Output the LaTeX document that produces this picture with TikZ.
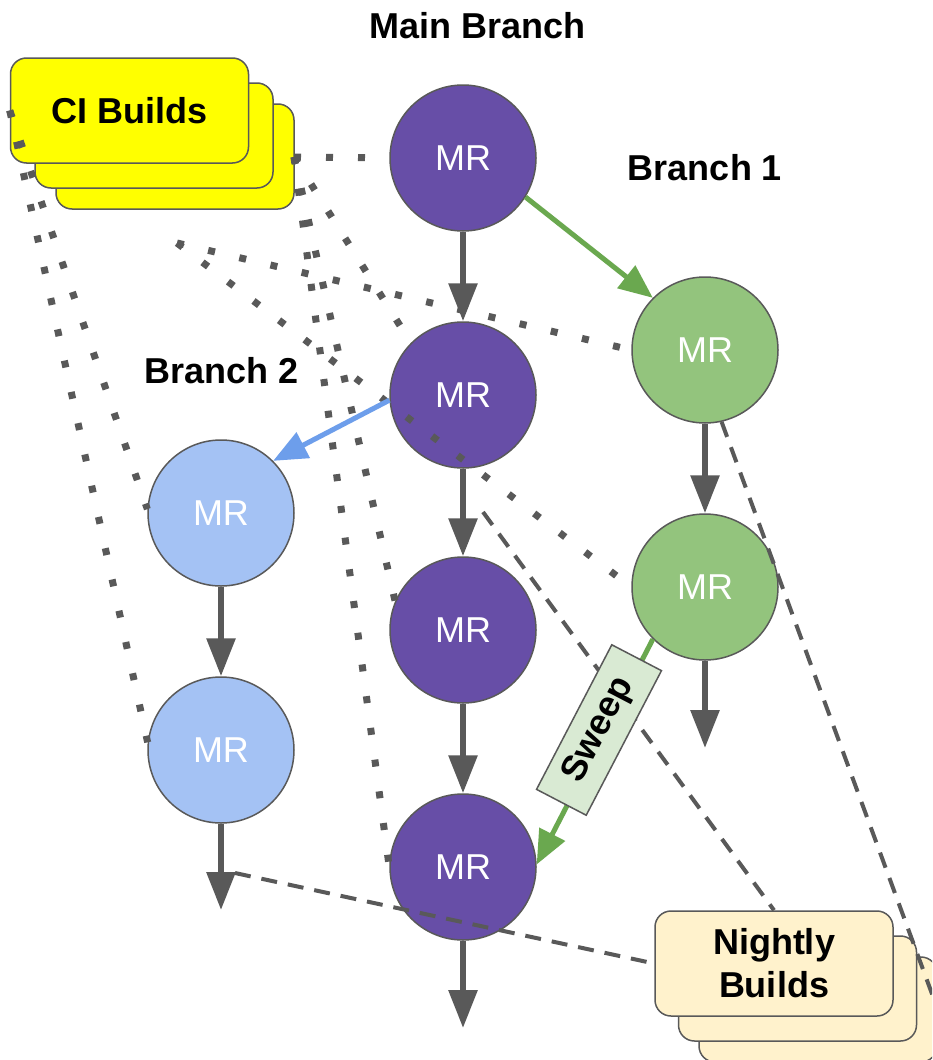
\documentclass[tikz,border=0pt]{standalone}
\usepackage{fontspec}
\setmainfont{Liberation Sans}
\usetikzlibrary{arrows.meta}
\definecolor{dgray}{HTML}{595959}
\definecolor{mpurple}{HTML}{674EA7}
\definecolor{mgreen}{HTML}{93C47D}
\definecolor{mblue}{HTML}{A4C2F4}
\definecolor{agreen}{HTML}{6AA84F}
\definecolor{ablue}{HTML}{6D9EEB}
\definecolor{sweepfill}{HTML}{D9EAD3}
\definecolor{ciyellow}{HTML}{FFFF00}
\definecolor{nightfill}{HTML}{FFF2CC}
\begin{document}
\begin{tikzpicture}[x=1pt,y=-1pt,
  mr/.style={circle, draw=dgray, line width=1.5pt, minimum size=146pt, inner sep=0pt, text=white, font=\fontsize{36pt}{43pt}\selectfont},
  pnode/.style={mr, fill=mpurple},
  gnode/.style={mr, fill=mgreen},
  bnode/.style={mr, fill=mblue},
  lbl/.style={font=\bfseries\fontsize{36pt}{43pt}\selectfont},
  stackbox/.style={draw=dgray, line width=1.5pt, rounded corners=16pt, minimum width=238pt, minimum height=105pt, inner sep=0pt, align=center, font=\bfseries\fontsize{36pt}{43pt}\selectfont},
  cibox/.style={stackbox, fill=ciyellow},
  nbox/.style={stackbox, fill=nightfill},
  flow/.style={draw=dgray, line width=6pt, -{Triangle[length=38pt,width=28pt]}},
  gflow/.style={draw=agreen, line width=5pt, -{Triangle[length=34pt,width=28pt]}},
  bflow/.style={draw=ablue, line width=5pt, -{Triangle[length=34pt,width=28pt]}},
  dots/.style={draw=dgray, line width=7pt, dash pattern=on 7pt off 25pt},
  dashline/.style={draw=dgray, line width=4pt, dash pattern=on 16pt off 11pt},
  sweepbox/.style={draw=dgray, line width=1.5pt, fill=sweepfill, minimum width=163pt, minimum height=56pt, inner sep=0pt, font=\bfseries\fontsize{36pt}{43pt}\selectfont}
]
\clip (0,0) rectangle (932,1060);
\fill[white] (0,0) rectangle (932,1060);

% labels
\node[lbl, anchor=base] (mb) at (478,38) {Main Branch};
\node[lbl, anchor=base] (b1) at (705,180) {Branch 1};
\node[lbl, anchor=base] (b2) at (222,383) {Branch 2};

% CI builds stack
\node[cibox] (ci3) at (175,156.5) {};
\node[cibox] (ci2) at (154,135.5) {};
\node[cibox] (ci1) at (129.5,110.5) {CI Builds};

% Nightly builds stack
\node[nbox] (n3) at (818,1009.5) {};
\node[nbox] (n2) at (797.5,988.5) {};
\node[nbox] (n1) at (774,963.5) {Nightly\\Builds};

% MR nodes
\node[pnode] (P1) at (463,158) {MR};
\node[pnode] (P2) at (463,395) {MR};
\node[pnode] (P3) at (463,630) {MR};
\node[pnode] (P4) at (463,867) {MR};
\node[gnode] (G1) at (705,350) {MR};
\node[gnode] (G2) at (705,587) {MR};
\node[bnode] (B1) at (221,513) {MR};
\node[bnode] (B2) at (221,750) {MR};

% free ends
\coordinate (cir) at (294,157);
\coordinate (cib) at (177,243);
\coordinate (P4end) at (463,1028);
\coordinate (G2end) at (705,748);
\coordinate (B2end) at (221,910);
\coordinate (d1s) at (235,873);
\coordinate (d2s) at (483,512);

% dotted CI connectors
\draw[dots] (cir) -- (P1.west);
\draw[dots] (cir) -- (P2.135);
\draw[dots] (cir) -- (P3.157);
\draw[dots] (cir) -- (P4.west);
\draw[dots] (cib) -- (G1.west);
\draw[dots] (cib) -- (G2.west);
\draw[dots] (ci1.west) -- (B1.177);
\draw[dots] (ci1.west) -- (B2.174);

% dashed nightly connectors
\draw[dashline] (d1s) -- (n1.west);
\draw[dashline] (d2s) -- (n1.north);
\draw[dashline] (G1.-77) -- (n3.east);

% flows
\draw[flow] (P1) -- (P2);
\draw[flow] (P2) -- (P3);
\draw[flow] (P3) -- (P4);
\draw[flow] (P4) -- (P4end);
\draw[flow] (G1) -- (G2);
\draw[flow] (G2) -- (G2end);
\draw[flow] (B1) -- (B2);
\draw[flow] (B2) -- (B2end);
\draw[gflow] (P1.-32) -- (G1.135);
\draw[bflow] (P2.184) -- (B1.45);
\draw[gflow] (G2.225) -- (P4.2);

% sweep label
\node[sweepbox, rotate=62.5] (sw) at (599,730) {Sweep};
\end{tikzpicture}
\end{document}
